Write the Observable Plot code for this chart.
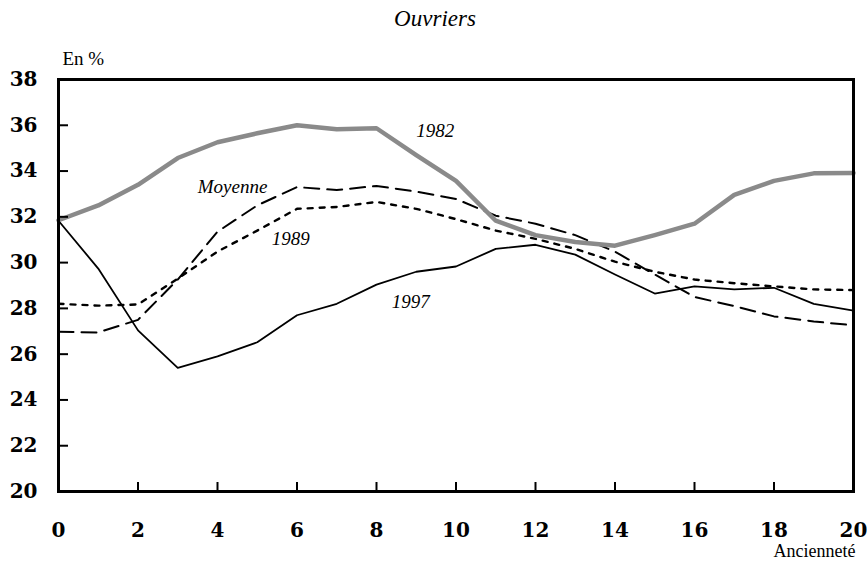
<!DOCTYPE html>
<html>
<head>
<meta charset="utf-8">
<script src="https://cdn.jsdelivr.net/npm/d3@7"></script>
<script src="https://cdn.jsdelivr.net/npm/@observablehq/plot@0.6"></script>
<style>
  html, body { margin: 0; padding: 0; background: #fff; }
  #chart { width: 867px; height: 569px; }
</style>
</head>
<body>
<div id="chart"></div>
<script>
// Ancienneté (years)
const anciennete = [0,1,2,3,4,5,6,7,8,9,10,11,12,13,14,15,16,17,18,19,20];
// Share of workers, in %
const v1982 = [31.85,32.5,33.4,34.57,35.26,35.65,36.0,35.83,35.87,34.7,33.57,31.83,31.2,30.9,30.74,31.2,31.7,32.96,33.57,33.9,33.92];
const vMoyenne = [26.98,26.95,27.5,29.26,31.35,32.5,33.3,33.17,33.35,33.1,32.78,32.05,31.7,31.2,30.48,29.48,28.5,28.1,27.65,27.43,27.26];
const v1989 = [28.2,28.12,28.17,29.3,30.48,31.4,32.35,32.43,32.65,32.35,31.9,31.4,31.04,30.6,30.04,29.6,29.26,29.1,28.96,28.83,28.8];
const v1997 = [31.83,29.74,27.04,25.4,25.9,26.52,27.7,28.2,29.04,29.6,29.83,30.6,30.78,30.35,29.48,28.65,28.96,28.83,28.9,28.2,27.9];
const xTicks = [0,2,4,6,8,10,12,14,16,18,20];
const yTicks = [20,22,24,26,28,30,32,34,36,38];
// series label anchors (data coordinates)
const labelNames = ["1982","Moyenne","1989","1997"];
const labelX = [9.48,4.38,5.84,8.86];
const labelY = [35.74,33.3,31.04,28.3];

const SERIF = "'Liberation Serif', 'Times New Roman', serif";
const TICKFONT = "'DejaVu Serif', serif";
const mk = (vals) => anciennete.map((x, i) => ({x, y: vals[i]}));
const d1982 = mk(v1982), dMoy = mk(vMoyenne), d1989 = mk(v1989), d1997 = mk(v1997);
const labels = labelNames.map((t, i) => ({t, x: labelX[i], y: labelY[i]}));

const chart = Plot.plot({
  width: 867,
  height: 569,
  marginLeft: 58,
  marginRight: 14,
  marginTop: 79,
  marginBottom: 78,
  style: {fontFamily: SERIF, fontSize: "20px", color: "#000", background: "#fff"},
  x: {domain: [0, 20]},
  y: {domain: [20, 38]},
  marks: [
    Plot.line(d1997, {x: "x", y: "y", stroke: "#000", strokeWidth: 1.8}),
    Plot.line(d1989, {x: "x", y: "y", stroke: "#000", strokeWidth: 2.4, strokeDasharray: "5,7"}),
    Plot.line(dMoy, {x: "x", y: "y", stroke: "#000", strokeWidth: 2, strokeDasharray: "15,8"}),
    Plot.line(d1982, {x: "x", y: "y", stroke: "#8a8a8a", strokeWidth: 4.5}),
    Plot.text(labels, {x: "x", y: "y", text: "t", fontFamily: SERIF, fontStyle: "italic", fontSize: 19, fill: "#000"}),
    Plot.axisY({ticks: yTicks, tickSize: 0, tickPadding: 21, label: null, fontFamily: TICKFONT, fontWeight: "bold", fontSize: 20}),
    Plot.axisY({ticks: yTicks, tickSize: 10, dx: 10, tickFormat: () => "", label: null, strokeWidth: 2}),
    Plot.axisX({ticks: xTicks, tickSize: 0, tickPadding: 31, label: null, fontFamily: TICKFONT, fontWeight: "bold", fontSize: 20}),
    Plot.axisX({ticks: xTicks, tickSize: 9, dy: -9, tickFormat: () => "", label: null, strokeWidth: 2}),
    Plot.frame({stroke: "#000", strokeWidth: 3}),
    Plot.text(["Ouvriers"], {frameAnchor: "top", lineAnchor: "middle", dx: -21, dy: -61, fontFamily: SERIF, fontStyle: "italic", fontSize: 23}),
    Plot.text(["En %"], {frameAnchor: "top-left", textAnchor: "start", lineAnchor: "middle", dx: 4, dy: -21, fontFamily: SERIF, fontSize: 19}),
    Plot.text(["Ancienneté"], {frameAnchor: "bottom-right", textAnchor: "end", lineAnchor: "middle", dx: 2, dy: 60, fontFamily: SERIF, fontSize: 18})
  ]
});
document.getElementById("chart").appendChild(chart);
</script>
</body>
</html>
